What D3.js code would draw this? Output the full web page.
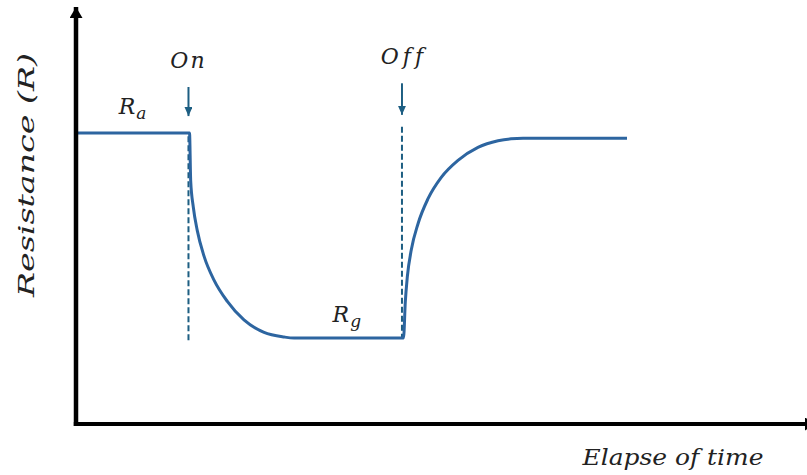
<!DOCTYPE html>
<html>
<head>
<meta charset="utf-8">
<script src="https://cdn.jsdelivr.net/npm/d3@7"></script>
<style>
  html, body { margin: 0; padding: 0; background: #fff; }
  svg { display: block; }
  text { font-family: "DejaVu Serif", "Liberation Serif", serif; font-style: italic; fill: #222;
         font-variant-ligatures: none; font-feature-settings: "liga" 0, "clig" 0; }
</style>
</head>
<body>
<svg id="chart" width="807" height="475"></svg>
<script>
// ---- data (arbitrary units read from the schematic) ----
const timePoints = [0, 15.34, 15.50, 15.85, 16.39, 17.30, 18.65, 20.45, 22.70, 25.41, 28.11, 29.46,
                    44.26, 44.50, 44.77, 45.31, 46.22, 47.57, 49.36, 51.62, 54.32, 57.03, 58.78, 60.41, 74.46];
const resistance = [71.0, 71.0, 59.27, 52.93, 47.17, 40.95, 35.10, 29.90, 25.37, 22.32, 21.22, 20.98,
                    20.98, 29.76, 35.85, 42.49, 48.85, 54.95, 60.15, 64.29, 67.46, 69.07, 69.55, 69.68, 69.68];
const eventLabels = ["On", "Off"];
const eventTimes = [15.2, 44.05];
const eventLabelLevel = [86.8, 87.8];
const arrowTop = [82.2, 83.1];
const arrowTip = [75.1, 75.4];
const eventLineTop = [70.2, 72.5];
const eventLineBottom = [20.0, 21.2];
const levelLabels = ["a", "g"];      // subscripts of R
const levelTimes = [7.64, 36.6];
const levelValues = [75.6, 24.9];
const xTitle = "Elapse of time";
const yTitle = "Resistance (R)";

const svg = d3.select("#chart");
const x = d3.scaleLinear().domain([0, 100]).range([76, 816]);
const y = d3.scaleLinear().domain([0, 100]).range([424, 14]);

const curveColor = "#2d65a0";
const markColor = "#1d5e82";

// arrowheads
const defs = svg.append("defs");
defs.append("marker").attr("id", "axisArrow")
  .attr("viewBox", "0 0 11 13").attr("refX", 11).attr("refY", 6.5)
  .attr("markerWidth", 11).attr("markerHeight", 13)
  .attr("markerUnits", "userSpaceOnUse").attr("orient", "auto")
  .append("path").attr("d", "M0,0 L11,6.5 L0,13 Z").attr("fill", "#000");
defs.append("marker").attr("id", "evArrow")
  .attr("viewBox", "0 0 9 8").attr("refX", 9).attr("refY", 4)
  .attr("markerWidth", 9).attr("markerHeight", 8)
  .attr("markerUnits", "userSpaceOnUse").attr("orient", "auto")
  .append("path").attr("d", "M0,0 L9,4 L0,8 Z").attr("fill", markColor);

// dashed event lines
svg.append("g").selectAll("line").data(eventTimes).join("line")
  .attr("x1", d => x(d)).attr("x2", d => x(d))
  .attr("y1", (d, i) => y(eventLineTop[i])).attr("y2", (d, i) => y(eventLineBottom[i]))
  .attr("stroke", markColor).attr("stroke-width", 2).attr("stroke-dasharray", "6,3");

// curve
const line = d3.line().x((d, i) => x(timePoints[i])).y(d => y(d)).curve(d3.curveMonotoneX);
svg.append("path").datum(resistance)
  .attr("d", line).attr("fill", "none")
  .attr("stroke", curveColor).attr("stroke-width", 3).attr("stroke-linejoin", "round");

// axes
svg.append("line")
  .attr("x1", x(0)).attr("y1", y(0) + 2).attr("x2", x(0)).attr("y2", 7)
  .attr("stroke", "#000").attr("stroke-width", 4.5).attr("marker-end", "url(#axisArrow)");
svg.append("line")
  .attr("x1", x(0) - 2.2).attr("y1", y(0)).attr("x2", x(100)).attr("y2", y(0))
  .attr("stroke", "#000").attr("stroke-width", 4).attr("marker-end", "url(#axisArrow)");

// event arrows
svg.append("g").selectAll("line").data(eventTimes).join("line")
  .attr("x1", d => x(d)).attr("x2", d => x(d))
  .attr("y1", (d, i) => y(arrowTop[i])).attr("y2", (d, i) => y(arrowTip[i]))
  .attr("stroke", markColor).attr("stroke-width", 2).attr("marker-end", "url(#evArrow)");

// event labels
svg.append("g").selectAll("text").data(eventLabels).join("text")
  .attr("x", (d, i) => x(eventTimes[i]) + (i === 0 ? 0 : 2)).attr("y", (d, i) => y(eventLabelLevel[i]))
  .attr("text-anchor", "middle").attr("font-size", 22)
  .attr("letter-spacing", (d, i) => i === 0 ? 2 : 4)
  .text(d => d);

// level labels R_a, R_g
const lv = svg.append("g").selectAll("text").data(levelLabels).join("text")
  .attr("x", (d, i) => x(levelTimes[i])).attr("y", (d, i) => y(levelValues[i]))
  .attr("text-anchor", "middle").attr("font-size", 22);
lv.append("tspan").text("R");
lv.append("tspan").attr("font-size", 17).attr("dx", 1).attr("dy", 5).text(d => d);

// axis titles
svg.append("text")
  .attr("x", 673).attr("y", 465).attr("text-anchor", "middle").attr("font-size", 22)
  .attr("textLength", 181).attr("lengthAdjust", "spacingAndGlyphs")
  .text(xTitle);
svg.append("text")
  .attr("transform", "translate(34,175) rotate(-90)").attr("text-anchor", "middle").attr("font-size", 22)
  .attr("textLength", 244).attr("lengthAdjust", "spacingAndGlyphs")
  .text(yTitle);
</script>
</body>
</html>
